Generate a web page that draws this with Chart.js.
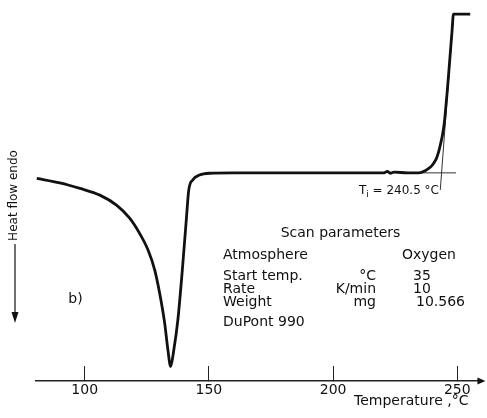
<!DOCTYPE html>
<html>
<head>
<meta charset="utf-8">
<script src="https://cdn.jsdelivr.net/npm/chart.js@4.4.1/dist/chart.umd.min.js"></script>
<style>
html,body{margin:0;padding:0;background:#fff;}
canvas{display:block;}
</style>
</head>
<body>
<canvas id="c" width="487" height="418"></canvas>
<script>
// ---- data ----
const temperatures = [80.7, 90.0, 98.1, 106.1, 112.8, 118.1, 122.1, 125.5, 128.2, 130.2, 132.2, 133.5, 134.6, 135.8, 137.5, 139.3, 140.9, 141.9, 143.5, 146.2, 150.2, 160, 180, 200, 215, 220.5, 221.8, 223.0, 224.5, 230, 234.5, 237.1, 239.1, 240.5, 241.6, 242.5, 243.3, 244.1, 244.8, 245.4, 246.0, 246.6, 247.9, 248.45, 255.2];
const heatFlow     = [54.6, 53.4, 51.9, 50.1, 47.4, 43.9, 39.8, 35.3, 29.9, 23.6, 15.6, 8.4, 3.9, 8.0, 16.4, 29.9, 43.4, 51.5, 54.2, 55.5, 56.0, 56.1, 56.1, 56.1, 56.1, 56.1, 56.5, 56.0, 56.3, 56.1, 56.1, 56.7, 57.6, 58.7, 60.0, 61.8, 64.0, 66.6, 69.8, 74.0, 78.5, 83.5, 94.5, 98.9, 98.9];
const tickValues = [100, 150, 200, 250];
const baselineTemps = [232, 249.5];
const baselineFlow = [56.1, 56.1];
const tangentTemps = [243.15, 248.48];
const tangentFlow = [51.5, 98.9];
const onsetTemperature = 240.5;
const xAxisTitle = 'Temperature ,°C';
const yAxisTitle = 'Heat flow endo';
const panelLabel = 'b)';
const scanTitle = 'Scan parameters';
const scanNames = ['Atmosphere', 'Start temp.', 'Rate', 'Weight', 'DuPont 990'];
const scanUnits = ['', '°C', 'K/min', 'mg', ''];
const scanValues = ['Oxygen', '35', '10', '10.566', ''];

const FONT = '"DejaVu Sans", Verdana, sans-serif';
const INK = '#111';

const toPts = (xs, ys) => xs.map((x, i) => ({x: x, y: ys[i]}));

const decor = {
  id: 'decor',
  afterDraw(chart) {
    const ctx = chart.ctx;
    const xs = chart.scales.x, ys = chart.scales.y;
    ctx.save();
    ctx.fillStyle = INK;
    ctx.strokeStyle = INK;

    // arrowhead at end of temperature axis
    const ay = xs.top;
    ctx.beginPath();
    ctx.moveTo(xs.right - 1, ay - 3.5);
    ctx.lineTo(xs.right + 7, ay);
    ctx.lineTo(xs.right - 1, ay + 3.5);
    ctx.closePath();
    ctx.fill();

    // arrow under the heat-flow title
    ctx.font = '12px ' + FONT;
    const tw = ctx.measureText(yAxisTitle).width;
    const ax = 15;
    const midY = (chart.chartArea.top + chart.chartArea.bottom) / 2;
    const aTop = midY + tw / 2 + 3;
    const aBot = 323;
    ctx.lineWidth = 1.2;
    ctx.beginPath();
    ctx.moveTo(ax, aTop);
    ctx.lineTo(ax, aBot - 10);
    ctx.stroke();
    ctx.beginPath();
    ctx.moveTo(ax - 3.5, aBot - 11);
    ctx.lineTo(ax + 3.5, aBot - 11);
    ctx.lineTo(ax, aBot);
    ctx.closePath();
    ctx.fill();

    // x axis title
    ctx.font = '14px ' + FONT;
    ctx.textAlign = 'right';
    ctx.textBaseline = 'alphabetic';
    ctx.fillText(xAxisTitle, xs.right - 10, 405);

    // panel label
    ctx.textAlign = 'left';
    ctx.fillText(panelLabel, xs.getPixelForValue(93.4), ys.getPixelForValue(21.0));

    // onset label  T_i = 240.5 °C
    let lx = xs.getPixelForValue(210.4);
    const ly = ys.getPixelForValue(50.4);
    ctx.font = '12px ' + FONT;
    ctx.fillText('T', lx, ly);
    lx += ctx.measureText('T').width;
    ctx.font = '9px ' + FONT;
    ctx.fillText('i', lx, ly + 3);
    lx += ctx.measureText('i').width;
    ctx.font = '12px ' + FONT;
    ctx.fillText(' = ' + onsetTemperature.toFixed(1) + ' °C', lx, ly);

    // scan parameter block
    ctx.font = '14px ' + FONT;
    ctx.textAlign = 'center';
    ctx.fillText(scanTitle, 340.5, 236.5);
    const rowY = [258.5, 280, 293, 306, 326];
    const valX = [402, 413, 413, 416, 413];
    scanNames.forEach((n, i) => {
      ctx.textAlign = 'left';
      ctx.fillText(n, 223, rowY[i]);
      if (scanUnits[i]) { ctx.textAlign = 'right'; ctx.fillText(scanUnits[i], 376, rowY[i]); }
      if (scanValues[i]) { ctx.textAlign = 'left'; ctx.fillText(scanValues[i], valX[i], rowY[i]); }
    });
    ctx.restore();
  }
};

new Chart(document.getElementById('c'), {
  type: 'line',
  data: {
    datasets: [
      { data: toPts(temperatures, heatFlow), borderColor: INK, borderWidth: 2.8, pointRadius: 0, cubicInterpolationMode: 'monotone', fill: false },
      { data: toPts(baselineTemps, baselineFlow), borderColor: '#333', borderWidth: 1, pointRadius: 0, fill: false },
      { data: toPts(tangentTemps, tangentFlow), borderColor: '#333', borderWidth: 1, pointRadius: 0, fill: false }
    ]
  },
  options: {
    responsive: false,
    animation: false,
    layout: { padding: { left: 0, right: 7, top: 10, bottom: 0 } },
    plugins: { legend: { display: false }, tooltip: { enabled: false } },
    scales: {
      x: {
        type: 'linear', min: 80.4, max: 258.5,
        afterBuildTicks: s => { s.ticks = tickValues.map(v => ({ value: v })); },
        afterFit: s => { s.height = 37; },
        grid: { display: true, drawOnChartArea: false, drawTicks: true, tickLength: -15, color: '#222', lineWidth: 1 },
        border: { display: true, color: '#222', width: 1.4 },
        ticks: { padding: 16, color: INK, font: { family: FONT, size: 14 }, maxRotation: 0, autoSkip: false }
      },
      y: {
        type: 'linear', min: 0, max: 100,
        afterFit: s => { s.width = 36; },
        grid: { display: false },
        border: { display: false },
        ticks: { display: false },
        title: { display: true, text: yAxisTitle, color: INK, font: { family: FONT, size: 12 }, padding: { top: 6.6, bottom: 0 } }
      }
    }
  },
  plugins: [decor]
});
</script>
</body>
</html>
